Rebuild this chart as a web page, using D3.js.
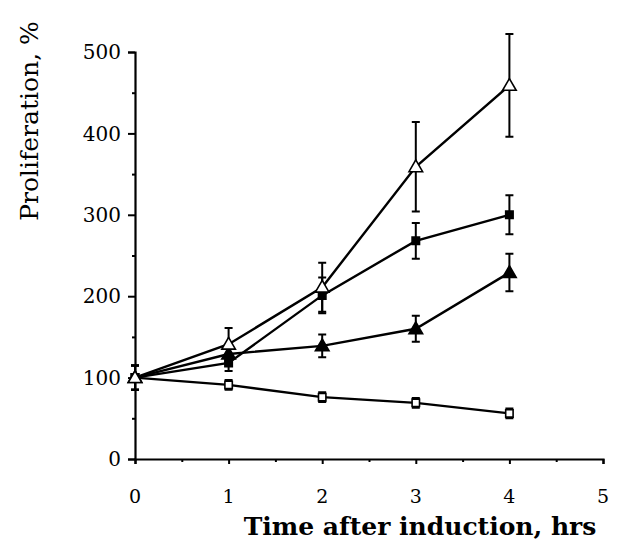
<!DOCTYPE html>
<html>
<head>
<meta charset="utf-8">
<script src="https://cdn.jsdelivr.net/npm/d3@7"></script>
<style>
  body { margin: 0; background: #fff; }
  text { font-family: "DejaVu Serif", serif; fill: #000; }
</style>
</head>
<body>
<svg id="chart" width="620" height="545"></svg>
<script>
// time points (hrs)
var times = [0, 1, 2, 3, 4];

// series values, % proliferation, with error (+/-)
var openTriangle = [100, 141, 211, 359, 459];
var openTriangleErr = [15, 20, 30, 55, 63];
var filledSquare = [100, 118, 201, 268, 300];
var filledSquareErr = [15, 10, 22, 22, 24];
var filledTriangle = [100, 129, 139, 160, 229];
var filledTriangleErr = [15, 10, 14, 16, 23];
var openSquare = [100, 91, 76, 69, 56];
var openSquareErr = [15, 6, 6, 6, 6];

var xTicks = [0, 1, 2, 3, 4, 5];
var yTicks = [0, 100, 200, 300, 400, 500];

var series = [
    { vals: openSquare, err: openSquareErr, shape: "square", fill: "#fff" },
    { vals: filledTriangle, err: filledTriangleErr, shape: "triangle", fill: "#000" },
    { vals: filledSquare, err: filledSquareErr, shape: "square", fill: "#000" },
    { vals: openTriangle, err: openTriangleErr, shape: "triangle", fill: "#fff" }
];

var margin = { top: 52, left: 135 },
    w = 468,
    h = 407;

var svg = d3.select("#chart");
var g = svg.append("g").attr("transform", `translate(${margin.left}, ${margin.top})`);

var x = d3.scaleLinear().domain([0, 5]).range([0, w]);
var y = d3.scaleLinear().domain([0, 500]).range([h, 0]);

// x axis, major ticks down + minor at halves
var xAxis = g.append("g").attr("transform", `translate(0, ${h})`)
    .call(d3.axisBottom(x).tickValues(xTicks).tickSize(5).tickFormat(""));
xAxis.select(".domain").attr("stroke-width", 2.2);
xAxis.selectAll(".tick line").attr("stroke-width", 2);
g.append("g").attr("transform", `translate(0, ${h})`)
    .call(d3.axisBottom(x).tickValues(d3.range(0.5, 5, 1)).tickSize(3).tickFormat(""))
    .call(s => s.select(".domain").remove())
    .selectAll(".tick line").attr("stroke-width", 2);

g.selectAll(".x_label").data(xTicks).join("text")
    .attr("class", "x_label")
    .attr("x", d => x(d))
    .attr("y", h + 44)
    .attr("text-anchor", "middle")
    .style("font-size", "19px")
    .text(d => d);

// y axis
var yAxis = g.append("g")
    .call(d3.axisLeft(y).tickValues(yTicks).tickSize(7).tickFormat(""));
yAxis.select(".domain").attr("stroke-width", 2.2);
yAxis.selectAll(".tick line").attr("stroke-width", 2);
g.append("g")
    .call(d3.axisLeft(y).tickValues(d3.range(50, 500, 100)).tickSize(3).tickFormat(""))
    .call(s => s.select(".domain").remove())
    .selectAll(".tick line").attr("stroke-width", 2);

g.selectAll(".y_label").data(yTicks).join("text")
    .attr("class", "y_label")
    .attr("x", -14)
    .attr("y", d => y(d))
    .attr("dy", "0.36em")
    .attr("text-anchor", "end")
    .style("font-size", "20px")
    .text(d => d);

// axis titles
svg.append("text")
    .attr("x", 420)
    .attr("y", 535)
    .attr("text-anchor", "middle")
    .style("font-size", "25px")
    .style("font-weight", "bold")
    .text("Time after induction, hrs");

svg.append("text")
    .attr("transform", "translate(38, 121) rotate(-90)")
    .attr("text-anchor", "middle")
    .style("font-size", "25px")
    .text("Proliferation, %");

// lines
var line = d3.line().x((d, i) => x(times[i])).y(d => y(d));
g.selectAll(".series_line").data(series).join("path")
    .attr("class", "series_line")
    .attr("d", d => line(d.vals))
    .attr("fill", "none")
    .attr("stroke", "#000")
    .attr("stroke-width", 2.4);

// error bars and markers
series.forEach(function(s) {
    var pts = s.vals.map((v, i) => ({ t: times[i], v: v, e: s.err[i] }));
    var eg = g.append("g");
    eg.selectAll(".err").data(pts).join("path")
        .attr("d", d => {
            var cx = x(d.t), y1 = y(d.v + d.e), y2 = y(d.v - d.e);
            return `M${cx},${y1}V${y2}M${cx - 4},${y1}H${cx + 4}M${cx - 4},${y2}H${cx + 4}`;
        })
        .attr("fill", "none")
        .attr("stroke", "#000")
        .attr("stroke-width", 2);
    var sym = s.shape === "square" ? d3.symbolSquare : d3.symbolTriangle;
    var size = s.shape === "square" ? 55 : 80;
    eg.selectAll(".mk").data(pts).join("path")
        .attr("transform", d => `translate(${x(d.t)}, ${y(d.v) + (s.shape === "triangle" ? 1 : 0)})`)
        .attr("d", d3.symbol().type(sym).size(size))
        .attr("fill", s.fill)
        .attr("stroke", "#000")
        .attr("stroke-width", 1.6);
});
</script>
</body>
</html>
